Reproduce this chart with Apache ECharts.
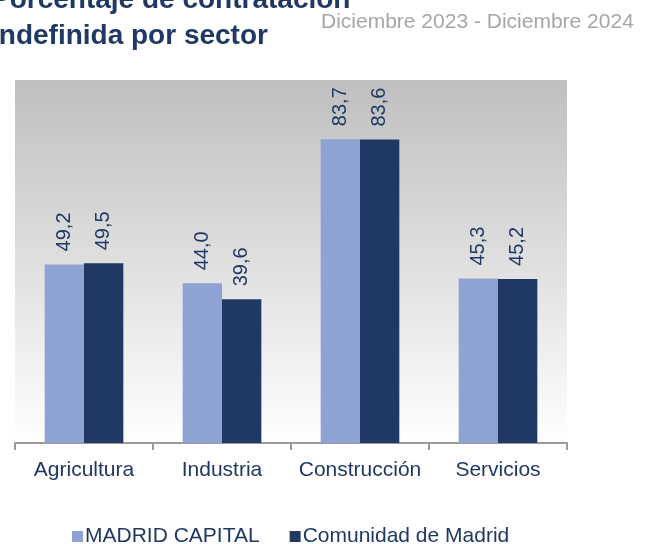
<!DOCTYPE html>
<html>
<head>
<meta charset="utf-8">
<script src="https://cdn.jsdelivr.net/npm/echarts@6/dist/echarts.min.js"></script>
<style>
  html, body { margin: 0; padding: 0; background: #fff; }
  #chart { width: 656px; height: 544px; }
</style>
</head>
<body>
<div id="chart"></div>
<script>
// datos
const sectores = ['Agricultura', 'Industria', 'Construcción', 'Servicios'];
const madridCapital = [49.2, 44.0, 83.7, 45.3];
const comunidadMadrid = [49.5, 39.6, 83.6, 45.2];
const nombresSeries = ['MADRID CAPITAL', 'Comunidad de Madrid'];

const azulOscuro = '#1F3864';
const fuente = 'Liberation Sans, Arial';
const fmt = p => p.value.toFixed(1).replace('.', ',');

let myChart = echarts.init(document.getElementById('chart'));

function serie(nombre, datos, color) {
  return {
    name: nombre,
    type: 'bar',
    data: datos,
    barGap: '0%',
    barCategoryGap: '43%',
    itemStyle: { color: color },
    label: {
      show: true,
      position: 'top',
      rotate: 90,
      align: 'left',
      verticalAlign: 'middle',
      distance: 13,
      color: azulOscuro,
      fontFamily: fuente,
      fontSize: 20,
      formatter: fmt
    }
  };
}

myChart.setOption({
  animation: false,
  title: [
    {
      text: 'Porcentaje de contratación\nindefinida por sector',
      left: -14,
      top: -23,
      textStyle: {
        color: azulOscuro,
        fontFamily: fuente,
        fontWeight: 'bold',
        fontSize: 28,
        lineHeight: 36
      }
    },
    {
      text: 'Diciembre 2023 - Diciembre 2024',
      left: 316,
      top: 7,
      textStyle: {
        color: '#A6A6A6',
        fontFamily: fuente,
        fontWeight: 'normal',
        fontSize: 21
      }
    }
  ],
  legend: {
    data: nombresSeries,
    left: 67,
    top: 521,
    itemWidth: 11,
    itemHeight: 11,
    itemGap: 30,
    icon: 'rect',
    textStyle: {
      color: azulOscuro,
      fontFamily: fuente,
      fontSize: 21,
      padding: [0, 0, 0, -3]
    }
  },
  grid: {
    left: 15,
    right: 89,
    top: 80,
    bottom: 101,
    show: true,
    borderWidth: 0,
    backgroundColor: new echarts.graphic.LinearGradient(0, 0, 0, 1, [
      { offset: 0, color: '#BFBFBF' },
      { offset: 1, color: '#FFFFFF' }
    ])
  },
  xAxis: {
    type: 'category',
    data: sectores,
    axisLine: { lineStyle: { color: '#9A9A9A', width: 2 } },
    axisTick: { show: true, interval: 0, length: 7, lineStyle: { color: '#9A9A9A', width: 2 } },
    axisLabel: {
      interval: 0,
      color: azulOscuro,
      fontFamily: fuente,
      fontSize: 21,
      margin: 17
    }
  },
  yAxis: {
    type: 'value',
    min: 0,
    max: 100,
    show: false,
    splitLine: { show: false }
  },
  series: [
    serie(nombresSeries[0], madridCapital, '#8FA2D4'),
    serie(nombresSeries[1], comunidadMadrid, '#203864')
  ]
});
</script>
</body>
</html>
